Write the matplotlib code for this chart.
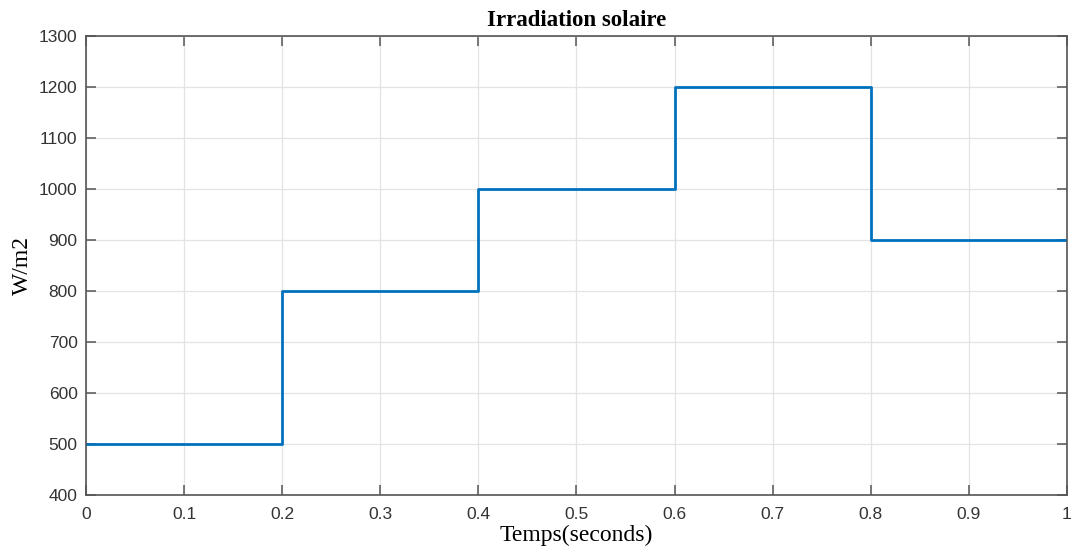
import numpy as np
import matplotlib
matplotlib.use("Agg")
import matplotlib.pyplot as plt

# step profile of the irradiance (W/m2) over the simulation
t_steps = [0.0, 0.2, 0.4, 0.6, 0.8, 1.0]
irr = [500, 800, 1000, 1200, 900, 900]
xtick_labels = ["0", "0.1", "0.2", "0.3", "0.4", "0.5", "0.6", "0.7", "0.8", "0.9", "1"]

fig = plt.figure(figsize=(10.73, 5.52), dpi=100)
ax = fig.add_axes([0.0801, 0.1033, 0.9143, 0.8315])

ax.step(t_steps, irr, where="post", color="#0072BD", lw=2.0)

ax.set_xlim(0, 1)
ax.set_ylim(400, 1300)
ax.set_xticks(np.linspace(0, 1, 11))
ax.set_xticklabels(xtick_labels)
ax.set_yticks(np.arange(400, 1301, 100))

ax.grid(True, color="#e3e3e3", lw=0.9)
ax.set_axisbelow(True)
for s in ax.spines.values():
    s.set_color("#555555")
    s.set_linewidth(1.2)
ax.tick_params(direction="in", top=True, right=True, length=7, width=1.1,
               color="#555555", labelcolor="#333333", labelsize=12.5)
ax.tick_params(axis="x", pad=9)
ax.tick_params(axis="y", pad=6)
for lab in ax.get_xticklabels() + ax.get_yticklabels():
    lab.set_family("Liberation Sans")

serif = ["Liberation Serif", "DejaVu Serif"]
ax.set_title("Irradiation solaire", family=serif, fontweight="bold", fontsize=16.5, pad=7)
ax.set_xlabel("Temps(seconds)", family=serif, fontsize=17, labelpad=2)
ax.set_ylabel("W/m2", family=serif, fontsize=17, labelpad=4)

fig.savefig("out.png", dpi=100)
